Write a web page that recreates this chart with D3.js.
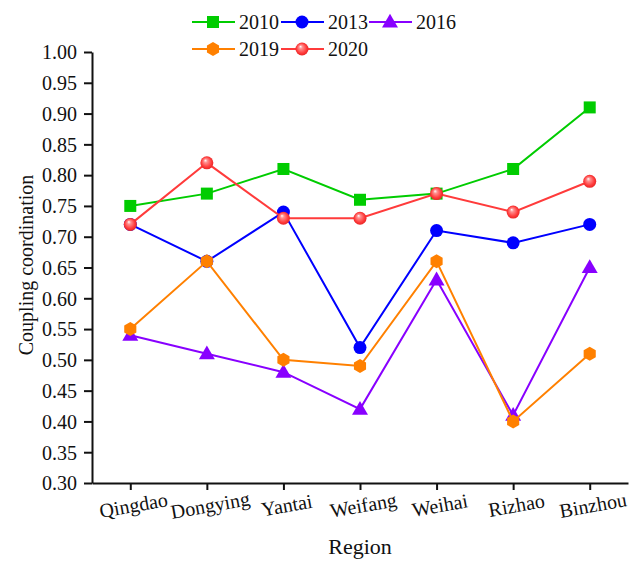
<!DOCTYPE html>
<html>
<head>
<meta charset="utf-8">
<script src="https://cdn.jsdelivr.net/npm/d3@7"></script>
<style>
  html, body { margin: 0; padding: 0; background: #fff; }
  svg { display: block; }
  text { font-family: "Liberation Serif", "Times New Roman", serif; fill: #111; }
</style>
</head>
<body>
<svg id="chart" width="630" height="561"></svg>
<script>
// Regions along the x axis
const regions = ["Qingdao", "Dongying", "Yantai", "Weifang", "Weihai", "Rizhao", "Binzhou"];
// Coupling coordination by year
const y2010 = [0.75, 0.77, 0.81, 0.76, 0.77, 0.81, 0.91];
const y2013 = [0.72, 0.66, 0.74, 0.52, 0.71, 0.69, 0.72];
const y2016 = [0.54, 0.51, 0.48, 0.42, 0.63, 0.41, 0.65];
const y2019 = [0.55, 0.66, 0.50, 0.49, 0.66, 0.40, 0.51];
const y2020 = [0.72, 0.82, 0.73, 0.73, 0.77, 0.74, 0.79];
const yTicks = [0.30, 0.35, 0.40, 0.45, 0.50, 0.55, 0.60, 0.65, 0.70, 0.75, 0.80, 0.85, 0.90, 0.95, 1.00];

const series = [
  { name: "2010", values: y2010, color: "#00cc00", marker: "square" },
  { name: "2013", values: y2013, color: "#0000ff", marker: "circle" },
  { name: "2016", values: y2016, color: "#8800ff", marker: "triangle" },
  { name: "2019", values: y2019, color: "#ff8000", marker: "hexagon" },
  { name: "2020", values: y2020, color: "#ff3b3b", marker: "sphere" }
];

const FONT = "'Liberation Serif', 'Times New Roman', serif";
const svg = d3.select("#chart");
const plotLeft = 92, plotRight = 628, plotTop = 52, plotBottom = 483;

const x = d3.scalePoint().domain(regions).range([plotLeft, plotRight]).padding(0.5);
const y = d3.scaleLinear().domain([0.30, 1.00]).range([plotBottom, plotTop]);

// Sphere shading for the 2020 markers
const defs = svg.append("defs");
const grad = defs.append("radialGradient").attr("id", "sphere")
  .attr("cx", "50%").attr("cy", "50%").attr("r", "55%")
  .attr("fx", "38%").attr("fy", "30%");
grad.append("stop").attr("offset", "0%").attr("stop-color", "#ffffff");
grad.append("stop").attr("offset", "25%").attr("stop-color", "#ff9090");
grad.append("stop").attr("offset", "70%").attr("stop-color", "#ff3b3b");
grad.append("stop").attr("offset", "100%").attr("stop-color", "#e02020");

function drawMarker(g, type, color, cx, cy) {
  if (type === "square") {
    g.append("rect").attr("x", cx - 6).attr("y", cy - 6).attr("width", 12).attr("height", 12).attr("fill", color);
  } else if (type === "circle") {
    g.append("circle").attr("cx", cx).attr("cy", cy).attr("r", 6.5).attr("fill", color);
  } else if (type === "triangle") {
    g.append("path").attr("d", d3.symbol(d3.symbolTriangle, 110)()).attr("transform", `translate(${cx},${cy + 1})`).attr("fill", color);
  } else if (type === "hexagon") {
    const r = 7;
    const pts = d3.range(6).map(i => {
      const a = Math.PI / 6 + i * Math.PI / 3;
      return [cx + r * Math.cos(a), cy + r * Math.sin(a)];
    });
    g.append("polygon").attr("points", pts.map(p => p.join(",")).join(" ")).attr("fill", color);
  } else if (type === "sphere") {
    g.append("circle").attr("cx", cx).attr("cy", cy).attr("r", 6.5).attr("fill", "url(#sphere)");
  }
}

// Axes
const yAxis = d3.axisLeft(y).tickValues(yTicks).tickFormat(d3.format(".2f")).tickSize(8).tickSizeOuter(0);
const gy = svg.append("g").attr("transform", `translate(${plotLeft},0)`).call(yAxis)
  .attr("font-family", FONT).attr("font-size", 20);
gy.select(".domain").attr("stroke", "#111").attr("stroke-width", 2);
gy.selectAll(".tick line").attr("stroke", "#111").attr("stroke-width", 2);
gy.selectAll(".tick text").attr("fill", "#111").attr("x", -15).attr("dy", "0.34em");

const xAxis = d3.axisBottom(x).tickSize(7).tickSizeOuter(0);
const gx = svg.append("g").attr("transform", `translate(0,${plotBottom})`).call(xAxis)
  .attr("font-family", FONT).attr("font-size", 20);
gx.select(".domain").attr("stroke", "#111").attr("stroke-width", 2);
gx.selectAll(".tick line").attr("stroke", "#111").attr("stroke-width", 2);
gx.selectAll(".tick text").attr("fill", "#111").attr("y", 0).attr("dy", 0)
  .attr("text-anchor", "middle")
  .attr("transform", "translate(4,29) rotate(-10)");

// Axis titles
svg.append("text").attr("x", 360).attr("y", 554).attr("text-anchor", "middle")
  .attr("font-size", 22).text("Region");
svg.append("text").attr("transform", `translate(33,265) rotate(-90)`)
  .attr("text-anchor", "middle").attr("font-size", 20).text("Coupling coordination");

// Lines and markers
const line = d3.line().x((d, i) => x(regions[i])).y(d => y(d));
series.forEach(s => {
  const g = svg.append("g");
  g.append("path").datum(s.values).attr("d", line).attr("fill", "none")
    .attr("stroke", s.color).attr("stroke-width", 2);
  s.values.forEach((v, i) => drawMarker(g, s.marker, s.color, x(regions[i]), y(v)));
});

// Legend
const legendPos = [[192, 22], [281, 22], [369, 22], [192, 49], [281, 49]];
series.forEach((s, i) => {
  const [lx, ly] = legendPos[i];
  const g = svg.append("g");
  g.append("line").attr("x1", lx).attr("x2", lx + 43).attr("y1", ly).attr("y2", ly)
    .attr("stroke", s.color).attr("stroke-width", 2);
  drawMarker(g, s.marker, s.color, lx + 21, ly);
  g.append("text").attr("x", lx + 47).attr("y", ly).attr("dy", "0.35em")
    .attr("font-size", 20).text(s.name);
});
</script>
</body>
</html>
